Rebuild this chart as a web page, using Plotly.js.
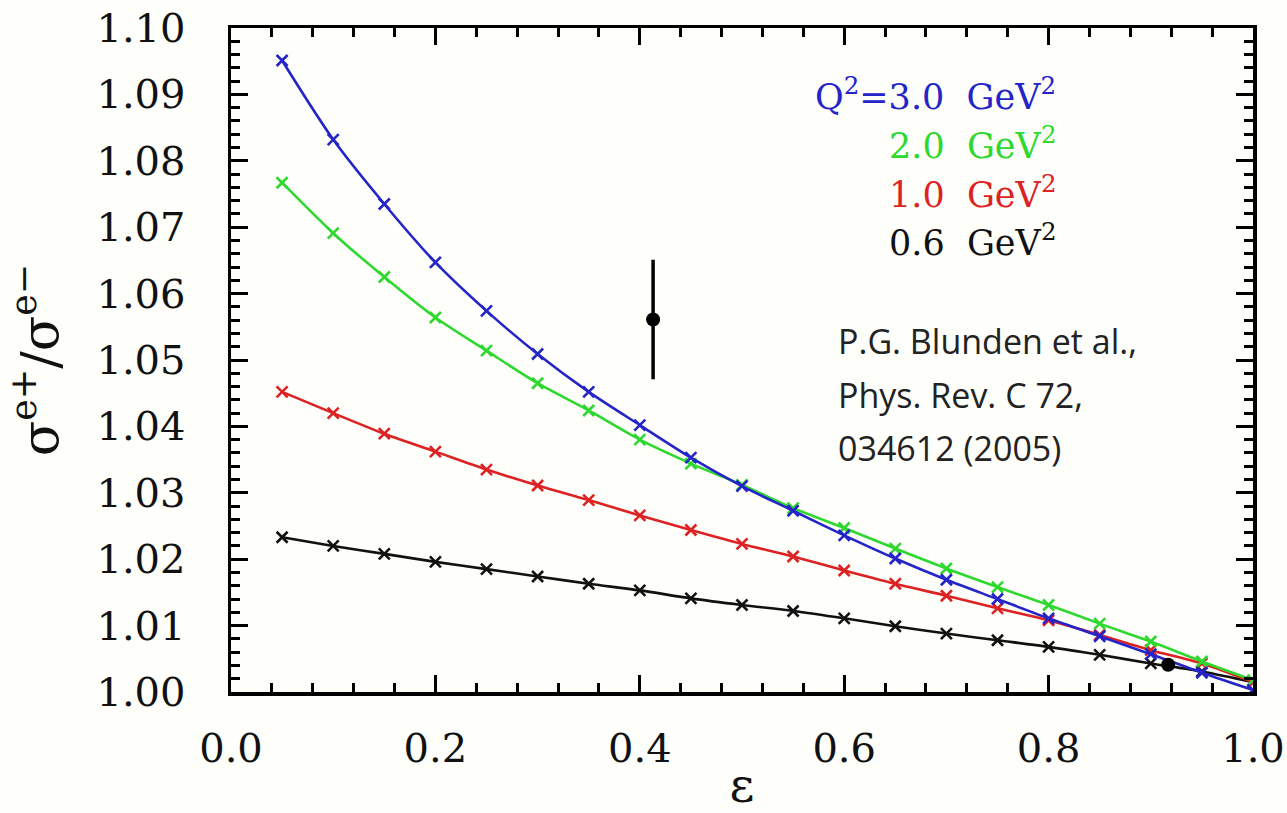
<!DOCTYPE html>
<html>
<head>
<meta charset="utf-8">
<script src="https://cdn.plot.ly/plotly-3.0.1.min.js"></script>
<style>
  html, body { margin: 0; padding: 0; background: #fefefb; }
  #chart { width: 1287px; height: 813px; }
</style>
</head>
<body>
<div id="chart"></div>
<script>
// epsilon values
const eps = [0.05, 0.10, 0.15, 0.20, 0.25, 0.30, 0.35, 0.40, 0.45, 0.50,
             0.55, 0.60, 0.65, 0.70, 0.75, 0.80, 0.85, 0.90, 0.95, 1.00];

// sigma(e+)/sigma(e-) for each Q^2
const q2_30 = [1.0951, 1.0832, 1.0735, 1.0647, 1.0574, 1.0509, 1.0452, 1.0402, 1.0353, 1.0310,
               1.0273, 1.0236, 1.0201, 1.0169, 1.0140, 1.0111, 1.0084, 1.0057, 1.0029, 1.0003];
const q2_20 = [1.0767, 1.0691, 1.0625, 1.0564, 1.0514, 1.0465, 1.0424, 1.0380, 1.0344, 1.0312,
               1.0277, 1.0247, 1.0216, 1.0186, 1.0158, 1.0131, 1.0103, 1.0076, 1.0046, 1.0018];
const q2_10 = [1.0452, 1.0420, 1.0389, 1.0362, 1.0335, 1.0311, 1.0289, 1.0266, 1.0244, 1.0223,
               1.0204, 1.0183, 1.0163, 1.0145, 1.0126, 1.0108, 1.0086, 1.0063, 1.0043, 1.0015];
const q2_06 = [1.0233, 1.0220, 1.0208, 1.0196, 1.0185, 1.0174, 1.0163, 1.0153, 1.0141, 1.0131,
               1.0122, 1.0111, 1.0099, 1.0088, 1.0078, 1.0068, 1.0056, 1.0043, 1.0031, 1.0015];

// measured points
const dataEps = [0.413, 0.917];
const dataRatio = [1.0561, 1.0041];
const dataErr = [0.009, 0.0];

// legend labels
const seriesLabels = ["Q<sup>2</sup>=3.0&nbsp;&nbsp;GeV<sup>2</sup>", "2.0&nbsp;&nbsp;GeV<sup>2</sup>",
                      "1.0&nbsp;&nbsp;GeV<sup>2</sup>", "0.6&nbsp;&nbsp;GeV<sup>2</sup>"];
const seriesColors = ["#2424c8", "#2ed82e", "#dc2222", "#111111"];
const seriesValues = [q2_30, q2_20, q2_10, q2_06];

// Citation lines
const citation = ["P.G. Blunden et al.,", "Phys. Rev. C 72,", "034612 (2005)"];

const traces = [];
// draw black first, blue last
for (let i = seriesValues.length - 1; i >= 0; i--) {
  traces.push({
    x: eps, y: seriesValues[i], type: 'scatter', mode: 'lines+markers',
    name: seriesLabels[i],
    line: { color: seriesColors[i], width: 2.6, shape: 'spline', smoothing: 0.8 },
    marker: { symbol: 'x-thin', size: 11, line: { color: seriesColors[i], width: 2.6 } },
    showlegend: false, hoverinfo: 'x+y'
  });
}
traces.push({
  x: dataEps, y: dataRatio, type: 'scatter', mode: 'markers',
  marker: { color: '#000', size: 14 },
  error_y: { type: 'data', array: dataErr, visible: true, color: '#000', thickness: 3.5, width: 0 },
  showlegend: false
});

const tickFont = { family: 'DejaVu Serif', size: 40, color: '#111' };

const annotations = [];
const legY = [1.0900, 1.0827, 1.0753, 1.0680];
for (let i = 0; i < seriesLabels.length; i++) {
  annotations.push({
    x: 0.809, y: legY[i], xref: 'x', yref: 'y', xanchor: 'right', yanchor: 'middle',
    text: seriesLabels[i], showarrow: false,
    font: { family: 'DejaVu Serif', size: 35, color: seriesColors[i] }
  });
}
const citY = [1.0528, 1.0447, 1.0368];
for (let i = 0; i < citation.length; i++) {
  annotations.push({
    x: 0.592, y: citY[i], xref: 'x', yref: 'y', xanchor: 'left', yanchor: 'middle',
    text: citation[i], showarrow: false,
    font: { family: 'Open Sans', size: 34, color: '#222' }
  });
}

const layout = {
  width: 1287, height: 813,
  paper_bgcolor: '#fefefb', plot_bgcolor: '#fefefb',
  margin: { l: 231, r: 34, t: 28, b: 121 },
  showlegend: false,
  xaxis: {
    range: [0, 1], dtick: 0.2, tick0: 0, tickformat: '.1f',
    ticks: 'inside', ticklen: 17, tickwidth: 3, tickcolor: '#000',
    minor: { dtick: 0.04, ticks: 'inside', ticklen: 9, tickwidth: 3, tickcolor: '#000' },
    showline: true, linewidth: 3.5, linecolor: '#000', mirror: 'ticks',
    showgrid: false, zeroline: false,
    tickfont: tickFont, ticklabelstandoff: 18,
    title: { text: 'ε', font: { family: 'DejaVu Serif', size: 48, color: '#111' }, standoff: 14 }
  },
  yaxis: {
    range: [1.0, 1.1], dtick: 0.01, tick0: 1.0, tickformat: '.2f',
    ticks: 'inside', ticklen: 17, tickwidth: 3, tickcolor: '#000',
    minor: { dtick: 0.002, ticks: 'inside', ticklen: 9, tickwidth: 3, tickcolor: '#000' },
    showline: true, linewidth: 3.5, linecolor: '#000', mirror: 'ticks',
    showgrid: false, zeroline: false,
    tickfont: tickFont, ticklabelstandoff: 34,
    title: { text: 'σ<sup>e+</sup>/σ<sup>e−</sup>', font: { family: 'DejaVu Serif', size: 52, color: '#111' }, standoff: 22 }
  },
  annotations: annotations
};

Plotly.newPlot('chart', traces, layout, { displayModeBar: false, staticPlot: true });
</script>
</body>
</html>
